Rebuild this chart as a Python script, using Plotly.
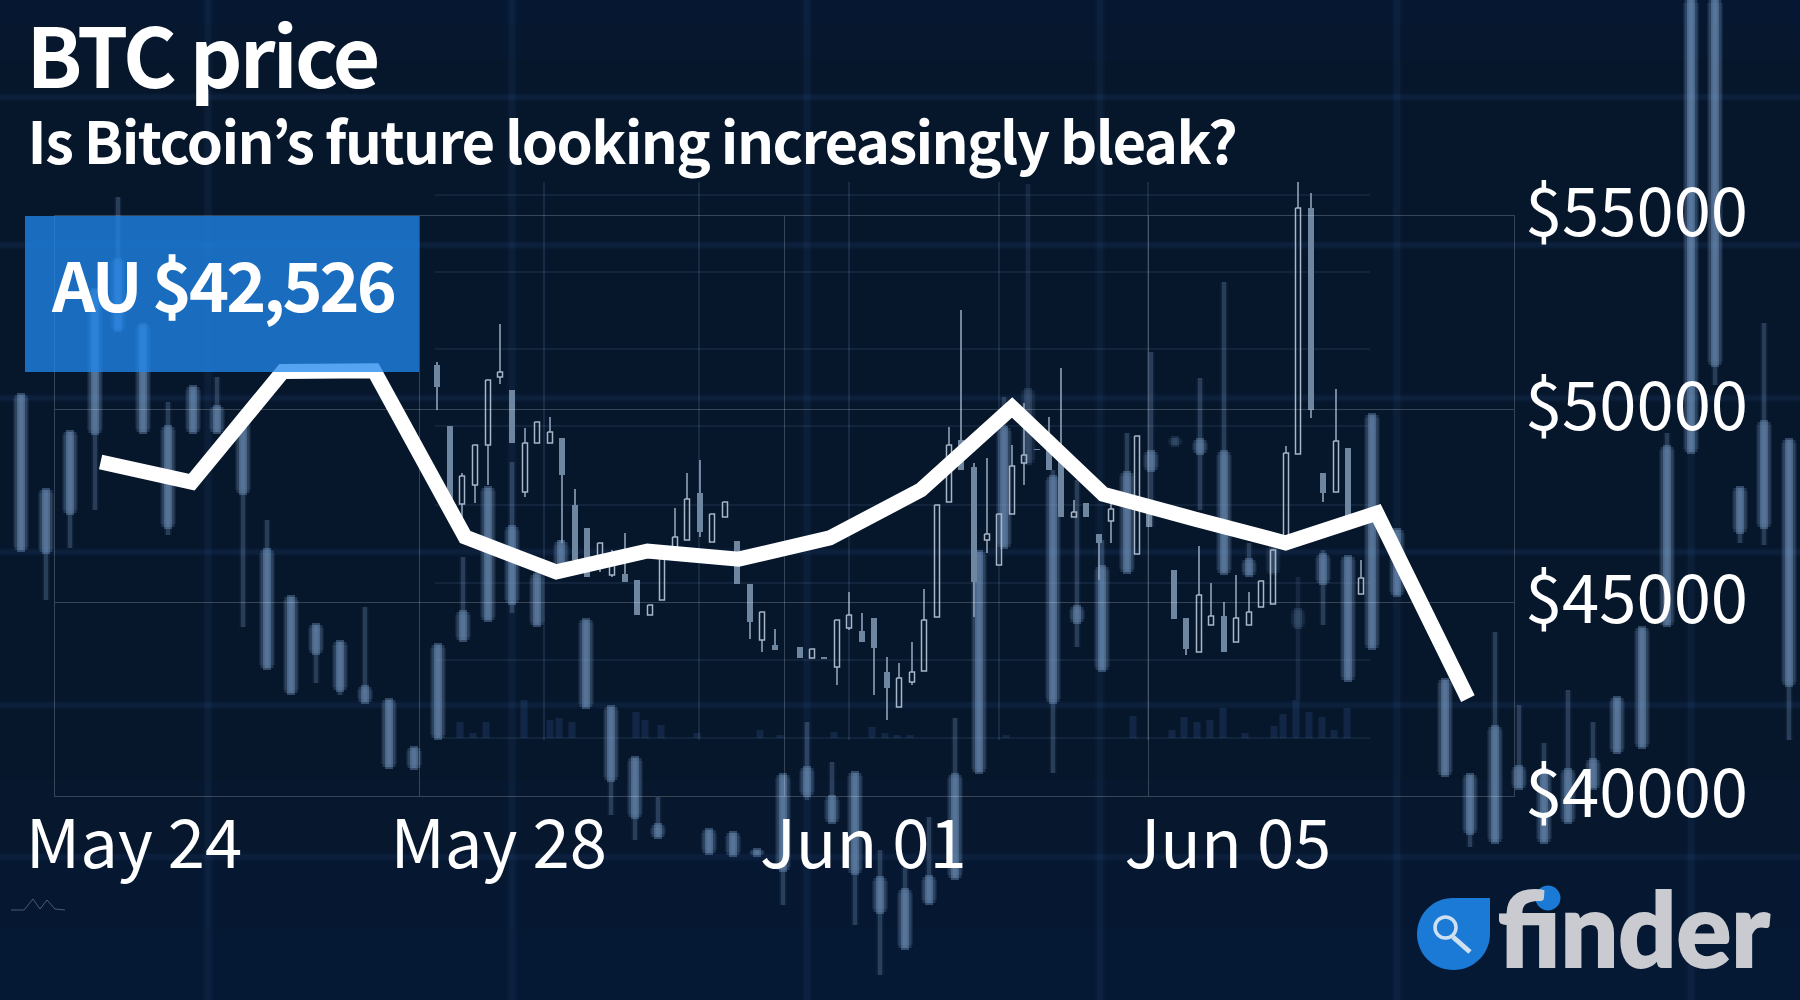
import plotly.graph_objects as go

# ---- main series ----
dates = ["2021-05-24T12:00", "2021-05-25T12:00", "2021-05-26T12:00", "2021-05-27T12:00",
         "2021-05-28T12:00", "2021-05-29T12:00", "2021-05-30T12:00", "2021-05-31T12:00",
         "2021-06-01T12:00", "2021-06-02T12:00", "2021-06-03T12:00", "2021-06-04T12:00",
         "2021-06-05T12:00", "2021-06-06T12:00", "2021-06-07T12:00", "2021-06-08T12:00"]
price = [48640, 48120, 50980, 51000, 46700, 45800, 46340, 46130,
         46680, 47920, 50050, 47810, 47170, 46550, 47320, 42526]
x_ticks = ["2021-05-24", "2021-05-28", "2021-06-01", "2021-06-05"]
x_labels = ["May 24", "May 28", "Jun 01", "Jun 05"]
y_ticks = [40000, 45000, 50000, 55000]
y_labels = ["$40000", "$45000", "$50000", "$55000"]

# ---- backdrop picture: blurred candles ----
soft_x = [21, 46, 70, 95, 118, 143, 168, 193, 217, 243, 267, 291, 316, 340, 365, 389, 414, 438, 463, 488,
          512, 537, 561, 586, 611, 635, 658, 709, 733, 757, 783, 807, 832, 855, 880, 905, 929, 955, 979, 1004,
          1053, 1077, 1102, 1127, 1151, 1200, 1224, 1249, 1323, 1348, 1372, 1397, 1445, 1470, 1495, 1519, 1544,
          1568, 1593, 1617, 1642, 1667, 1691, 1715, 1740, 1764, 1789]
soft_hi = [395, 490, 432, 290, 197, 325, 402, 387, 377, 415, 520, 597, 625, 642, 607, 700, 748, 645, 557, 488,
           462, 570, 540, 620, 707, 758, 797, 830, 833, 850, 775, 722, 762, 773, 850, 867, 817, 718, 552, 397,
           470, 480, 540, 433, 352, 378, 282, 543, 550, 557, 415, 530, 680, 775, 632, 705, 743,
           690, 722, 698, 628, 433, 0, 0, 488, 323, 440]
soft_top = [395, 490, 432, 290, 260, 325, 427, 387, 407, 420, 550, 597, 625, 642, 687, 700, 748, 645, 612, 488,
            527, 575, 542, 620, 707, 758, 825, 830, 833, 850, 775, 768, 797, 773, 878, 890, 877, 775, 552, 428,
            477, 607, 567, 473, 452, 440, 452, 560, 555, 557, 415, 530, 680, 775, 727, 767, 770,
            770, 760, 698, 628, 447, 0, 0, 488, 422, 440]
soft_bot = [550, 552, 513, 433, 330, 432, 527, 432, 432, 493, 668, 693, 653, 690, 702, 767, 768, 738, 640, 620,
            603, 625, 575, 707, 780, 817, 837, 853, 855, 855, 870, 795, 822, 873, 912, 948, 903, 878, 772, 547,
            702, 622, 670, 572, 470, 453, 573, 575, 583, 680, 648, 595, 775, 833, 842, 788, 842,
            822, 788, 752, 747, 625, 452, 365, 532, 527, 685]
soft_lo = [550, 600, 548, 510, 330, 432, 535, 432, 432, 627, 668, 693, 683, 695, 702, 767, 768, 738, 640, 620,
           613, 625, 575, 707, 815, 840, 837, 853, 855, 855, 905, 800, 822, 925, 975, 948, 903, 878, 772, 547,
           773, 647, 670, 572, 527, 510, 573, 575, 625, 680, 648, 595, 775, 847, 842, 788, 842,
           822, 788, 752, 747, 625, 452, 385, 543, 545, 740]
dim_x = [1028, 1175, 1273, 1298]
dim_hi = [184, 438, 548, 577]
dim_top = [390, 438, 548, 610]
dim_bot = [463, 445, 573, 627]
dim_lo = [463, 445, 573, 700]

# ---- backdrop picture: sharp candles ----
sharp_x = [437, 450, 462, 475, 488, 500, 512, 525, 537, 550, 562, 575, 587, 600, 612, 625, 637, 650, 662, 675,
           687, 700, 712, 725, 737, 750, 762, 775, 800, 812, 824, 837, 849, 862, 874, 887, 899, 912, 924, 937,
           949, 961, 974, 987, 999, 1012, 1024, 1037, 1049, 1061, 1074, 1086, 1099, 1111, 1137, 1149, 1174, 1186,
           1199, 1211, 1224, 1236, 1249, 1261, 1273, 1286, 1298, 1311, 1323, 1336, 1348, 1361]
sharp_hi = [362, 426, 473, 445, 380, 324, 390, 428, 422, 417, 438, 489, 528, 543, 550, 533, 580, 605, 550, 508,
            473, 460, 514, 502, 541, 584, 612, 629, 647, 649, 657, 620, 592, 613, 618, 657, 663, 642, 589, 505,
            427, 310, 463, 458, 514, 445, 403, 449, 417, 368, 500, 503, 534, 503, 436, 510, 570, 618,
            546, 583, 602, 575, 592, 581, 550, 446, 182, 193, 473, 389, 448, 560]
sharp_top = [365, 426, 476, 445, 380, 372, 390, 443, 422, 432, 438, 505, 528, 543, 565, 574, 580, 605, 558, 537,
             499, 493, 514, 502, 541, 584, 612, 645, 647, 649, 657, 620, 615, 631, 618, 672, 678, 672, 620, 505,
             445, 440, 467, 534, 514, 466, 455, 449, 440, 460, 512, 503, 534, 509, 436, 510, 570, 618,
             595, 616, 616, 618, 612, 581, 550, 453, 208, 208, 473, 441, 448, 578]
sharp_bot = [387, 505, 504, 485, 445, 377, 443, 492, 443, 443, 475, 560, 577, 557, 575, 582, 615, 615, 600, 550,
             540, 532, 542, 517, 584, 622, 640, 650, 658, 658, 659, 667, 628, 642, 648, 688, 707, 682, 671, 617,
             502, 470, 582, 540, 565, 514, 463, 450, 470, 517, 517, 517, 543, 521, 554, 527, 619, 649,
             652, 625, 652, 642, 625, 607, 604, 537, 454, 410, 493, 492, 525, 594]
sharp_lo = [410, 505, 518, 503, 485, 384, 443, 497, 443, 443, 543, 560, 577, 572, 577, 582, 615, 615, 600, 550,
            540, 537, 542, 517, 584, 639, 652, 650, 658, 658, 659, 685, 630, 642, 695, 720, 707, 685, 671, 617,
            502, 470, 617, 553, 565, 514, 485, 450, 470, 517, 517, 517, 580, 543, 554, 527, 619, 655,
            652, 625, 652, 642, 625, 607, 604, 537, 454, 418, 502, 492, 525, 594]
sharp_filled = [1, 1, 0, 0, 0, 0, 1, 0, 0, 0, 1, 1, 1, 0, 0, 1, 1, 0, 0, 0,
                0, 1, 0, 0, 1, 1, 0, 1, 1, 0, 1, 0, 0, 1, 1, 1, 0, 0, 0, 0,
                0, 1, 1, 0, 0, 0, 0, 1, 1, 1, 0, 1, 1, 0, 0, 1, 1, 1,
                0, 0, 1, 0, 0, 0, 0, 0, 0, 1, 1, 0, 1, 0]

# ---- backdrop picture: volume bars and grids ----
vol_x = [460, 473, 486, 524, 550, 559, 572, 636, 645, 661, 697, 760, 780, 834, 872, 885, 897, 910, 1006,
         1133, 1172, 1184, 1197, 1210, 1223, 1245, 1274, 1283, 1296, 1309, 1322, 1334, 1347]
vol_top = [722, 733, 722, 700, 720, 718, 722, 712, 720, 725, 733, 730, 735, 732, 727, 733, 735, 735, 735,
           716, 730, 717, 722, 720, 708, 733, 726, 714, 700, 712, 717, 730, 708]
fine_h = [195, 272, 349, 426, 505, 583, 660, 738]
fine_v = [544, 699, 849, 999, 1148]
soft_h = [97, 245, 398, 552, 705, 857]
soft_v = [208, 512, 807, 1100, 1397, 1691]

BG = "#06162b"
CANDLE = "115,150,190"
FONT = "Noto Sans CJK JP"


def segs(pairs):
    xs, ys = [], []
    for (x0, y0), (x1, y1) in pairs:
        xs += [x0, x1, None]
        ys += [y0, y1, None]
    return xs, ys


def deco_line(pairs, color, width):
    xs, ys = segs(pairs)
    return go.Scatter(x=xs, y=ys, mode="lines", line=dict(color=color, width=width),
                      hoverinfo="skip", showlegend=False, xaxis="x", yaxis="y")


def add_soft(fig, x, hi, top, bot, lo, k):
    wick = [((a, b), (a, e)) for a, b, e in zip(x, hi, lo) if e > b]
    fig.add_trace(deco_line(wick, f"rgba({CANDLE},{0.10 * k})", 7))
    fig.add_trace(deco_line(wick, f"rgba({CANDLE},{0.24 * k})", 4))
    wide = [((a, t + min(3, (b - t) / 2 - 1)), (a, b - min(3, (b - t) / 2 - 1))) for a, t, b in zip(x, top, bot)]
    mid = [((a, t), (a, b)) for a, t, b in zip(x, top, bot)]
    core = [((a, t - 2), (a, b + 2)) for a, t, b in zip(x, top, bot)]
    fig.add_trace(deco_line(wide, f"rgba({CANDLE},{0.12 * k})", 16))
    fig.add_trace(deco_line(mid, f"rgba({CANDLE},{0.26 * k})", 13))
    fig.add_trace(deco_line(core, f"rgba({CANDLE},{0.42 * k})", 8))


fig = go.Figure()

# backdrop grids
fig.add_trace(deco_line([((0, y), (1800, y)) for y in soft_h], "rgba(45,85,140,0.06)", 9))
fig.add_trace(deco_line([((0, y), (1800, y)) for y in soft_h], "rgba(45,85,140,0.12)", 5))
fig.add_trace(deco_line([((x, 0), (x, 1000)) for x in soft_v], "rgba(45,85,140,0.06)", 11))
fig.add_trace(deco_line([((x, 0), (x, 1000)) for x in soft_v], "rgba(45,85,140,0.11)", 6))
fig.add_trace(go.Bar(x=vol_x, y=[t - 738 for t in vol_top], base=738, width=7,
                     marker=dict(color="rgba(50,85,135,0.28)", line_width=0),
                     hoverinfo="skip", showlegend=False, xaxis="x", yaxis="y"))
fig.add_trace(deco_line([((435, y), (1370, y)) for y in fine_h], "rgba(120,155,200,0.22)", 1.2))
fig.add_trace(deco_line([((x, 182), (x, 740)) for x in fine_v], "rgba(120,155,200,0.28)", 1.2))

# blurred candles
add_soft(fig, dim_x, dim_hi, dim_top, dim_bot, dim_lo, 0.45)
add_soft(fig, soft_x, soft_hi, soft_top, soft_bot, soft_lo, 1.0)

# sharp candles
hollow = [i for i, f in enumerate(sharp_filled) if not f]
solid = [i for i, f in enumerate(sharp_filled) if f]
fig.add_trace(deco_line([((sharp_x[i], sharp_hi[i]), (sharp_x[i], sharp_top[i])) for i in range(len(sharp_x))]
                        + [((sharp_x[i], sharp_bot[i]), (sharp_x[i], sharp_lo[i])) for i in range(len(sharp_x))],
                        "#8fa3ba", 1.6))
fig.add_trace(deco_line([((sharp_x[i], sharp_top[i]), (sharp_x[i], sharp_bot[i])) for i in solid], "#6f86a1", 6))
xs = []
ys = []
for i in hollow:
    a, t, b = sharp_x[i], sharp_top[i], sharp_bot[i]
    xs += [a - 2.5, a + 2.5, a + 2.5, a - 2.5, a - 2.5, None]
    ys += [t, t, b, b, t, None]
fig.add_trace(go.Scatter(x=xs, y=ys, mode="lines", line=dict(color="#a7b6c8", width=1.5),
                         hoverinfo="skip", showlegend=False, xaxis="x", yaxis="y"))

# the price line
fig.add_trace(go.Scatter(x=dates, y=price, mode="lines", name="BTC price",
                         line=dict(color="#ffffff", width=15), showlegend=False,
                         xaxis="x2", yaxis="y2"))

grid = "rgba(255,255,255,0.2)"
fig.update_layout(
    width=1800, height=1000, margin=dict(l=0, r=0, t=0, b=0, autoexpand=False),
    paper_bgcolor=BG, plot_bgcolor="rgba(0,0,0,0)", showlegend=False,
    font=dict(family=FONT, color="#ffffff"),
    xaxis=dict(domain=[0, 1], range=[0, 1800], visible=False, fixedrange=True, automargin=False),
    yaxis=dict(domain=[0, 1], range=[1000, 0], visible=False, fixedrange=True, automargin=False),
    xaxis2=dict(domain=[55 / 1800, 1513.5 / 1800], anchor="y2", type="date", automargin=False,
                range=["2021-05-24", "2021-06-09"],
                tickmode="array", tickvals=x_ticks, ticktext=x_labels,
                showgrid=True, gridcolor=grid, gridwidth=1, showline=True, linecolor=grid, linewidth=1,
                mirror=True, ticks="", zeroline=False,
                tickfont=dict(family=FONT, size=67, color="#ffffff"),
                ticklabelshift=79, ticklabelstandoff=-10),
    yaxis2=dict(domain=[(1000 - 796.3) / 1000, (1000 - 216) / 1000], anchor="x2", side="right", automargin=False,
                range=[40000, 55000], tickmode="array", tickvals=y_ticks, ticktext=y_labels,
                showgrid=True, gridcolor=grid, gridwidth=1, showline=True, linecolor=grid, linewidth=1,
                mirror=True, ticks="", zeroline=False,
                tickfont=dict(family=FONT, size=67, color="#ffffff"),
                ticklabelshift=-3, ticklabelstandoff=-3),
)

# background tint bands
bands = [(0, 60, 0.05), (0, 25, 0.05), (780, 1000, 0.05), (860, 1000, 0.05), (930, 1000, 0.05)]
shapes = [dict(type="rect", xref="paper", yref="paper", x0=0, x1=1, y0=1 - b / 1000, y1=1 - a / 1000,
               fillcolor=f"rgba(25,65,125,{al})", line_width=0, layer="below") for a, b, al in bands]
# value box
shapes.append(dict(type="rect", xref="x", yref="y", x0=25, x1=419, y0=216, y1=372,
                   fillcolor="rgba(32,136,237,0.76)", line_width=0, layer="above"))
# logo drop
shapes.append(dict(type="path", xref="x", yref="y", layer="above", fillcolor="#1a7ad6", line_width=0,
                   path="M1490,934 C1490,954 1473.5,970 1453.5,970 C1433,970 1417,954 1417,934 "
                        "C1417,914 1433,898 1453,898 L1490,898 Z"))
shapes.append(dict(type="circle", xref="x", yref="y", layer="above", x0=1435, x1=1456, y0=917, y1=938,
                   fillcolor="rgba(0,0,0,0)", line=dict(color="#cfe0f2", width=3.5)))
shapes.append(dict(type="line", xref="x", yref="y", layer="above", x0=1453, y0=937, x1=1470, y1=952,
                   line=dict(color="#cfe0f2", width=5)))
# small mountain mark
shapes.append(dict(type="path", xref="x", yref="y", layer="above", fillcolor="rgba(0,0,0,0)",
                   line=dict(color="rgba(200,215,235,0.35)", width=1),
                   path="M11,910 L24,910 L33,899 L40,909 L47,900 L55,909 L65,910"))
fig.update_layout(shapes=shapes)


def note(text, x, y, size, anchor="left", color="#ffffff", family=FONT, weight=700, yanchor="middle"):
    return dict(text=text, xref="paper", yref="paper", x=x / 1800, y=1 - y / 1000, xanchor=anchor, yanchor=yanchor,
                showarrow=False, font=dict(family=family, size=size, color=color, weight=weight))


fig.update_layout(annotations=[
    note("BTC price", 12, 52, 82),
    note("Is Bitcoin’s future looking increasingly bleak?", -12, 139, 58),
    note("AU $42,526", 222, 283, 68, anchor="center"),
    note("finder", 1496, 927, 102, color="#c9cbd0", family="Lato", weight=900),
])
fig.add_shape(type="circle", xref="x", yref="y", layer="above", x0=1534, x1=1562, y0=884, y1=912,
              fillcolor="#1a7ad6", line=dict(color=BG, width=3))

tighten = """
document.body.style.margin = '0';
var spacing = {'BTC price': '-2.8px', 'AU $42,526': '-3px'};
document.querySelectorAll('.annotation-text').forEach(function (t) {
  var s = t.textContent;
  if (s.indexOf('Bitcoin') >= 0) { t.style.letterSpacing = '-1.6px'; }
  else if (spacing[s]) { t.style.letterSpacing = spacing[s]; }
  else if (s === 'finder') { t.style.stroke = '#c9cbd0'; t.style.strokeWidth = '2px'; }
});
"""
fig.write_html("out.html", config=dict(displayModeBar=False), post_script=tighten)
